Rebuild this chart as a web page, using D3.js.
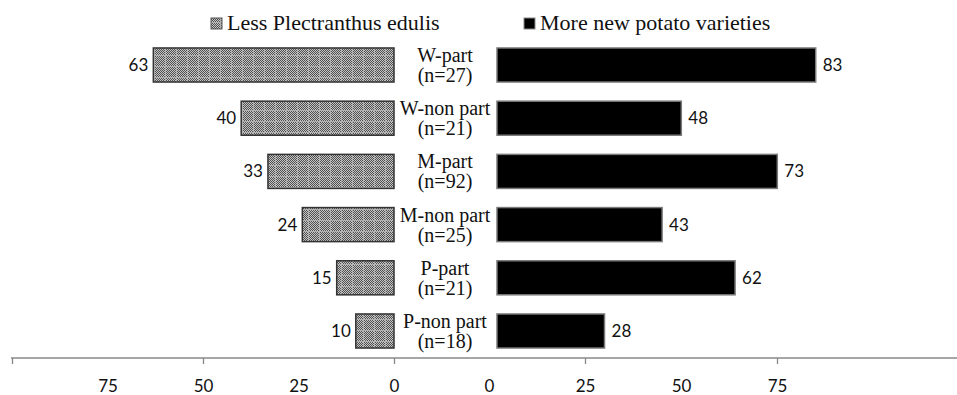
<!DOCTYPE html>
<html>
<head>
<meta charset="utf-8">
<script src="https://cdn.jsdelivr.net/npm/d3@7"></script>
<style>
  body { margin: 0; background: #fff; }
  svg { display: block; }
  .cat, .legend { font-family: "Liberation Serif", Tinos, "Times New Roman", Times, "DejaVu Serif", serif; fill: #111; }
  .cat { font-size: 20px; }
  .legend { font-size: 22px; }
  .val { font-family: Lato, "Open Sans", sans-serif; font-size: 17px; fill: #111; }
  .axis text { font-family: Lato, "Open Sans", sans-serif; font-size: 17px; fill: #111; }
  .axis line, .axis path { stroke: #888; }
</style>
</head>
<body>
<svg width="957" height="395"></svg>
<script>
// data
var categories = ["W-part", "W-non part", "M-part", "M-non part", "P-part", "P-non part"];
var sampleSizes = [27, 21, 92, 25, 21, 18];
var lessPlectranthus = [63, 40, 33, 24, 15, 10];
var morePotato = [83, 48, 73, 43, 62, 28];
var tickLabels = [0, 25, 50, 75];
var seriesNames = ["Less Plectranthus edulis", "More new potato varieties"];

var svg = d3.select('svg');

// patterns for the left (grey checker) bars
var defs = svg.append('defs');
var checker = defs.append('pattern').attr('id', 'checker')
    .attr('width', 2).attr('height', 2).attr('patternUnits', 'userSpaceOnUse');
checker.append('rect').attr('width', 2).attr('height', 2).attr('fill', '#c4c4c4');
checker.append('rect').attr('width', 1).attr('height', 1).attr('fill', '#505050');
checker.append('rect').attr('x', 1).attr('y', 1).attr('width', 1).attr('height', 1).attr('fill', '#505050');

var grid = defs.append('pattern').attr('id', 'grid')
    .attr('width', 11).attr('height', 11).attr('patternUnits', 'userSpaceOnUse');
grid.append('rect').attr('width', 11).attr('height', 11).attr('fill', 'url(#checker)');
grid.append('rect').attr('width', 1).attr('height', 11).attr('fill', '#b0b0b0');
grid.append('rect').attr('width', 11).attr('height', 1).attr('fill', '#b0b0b0');

// scales
var y = d3.scaleBand().domain(categories).range([38.4, 357.6])
    .paddingInner(0.36).paddingOuter(0.18);

var xLeft = d3.scaleLinear().domain([0, 100]).range([394, 12]);
var xRight = d3.scaleLinear().domain([0, 100]).range([497, 881]);
var xRightAxis = d3.scaleLinear().domain([0, 100]).range([489, 873]);

var axisY = 358;

// axis line across the whole chart
svg.append('line')
    .attr('x1', xLeft(100) - 1).attr('x2', 957)
    .attr('y1', axisY).attr('y2', axisY)
    .attr('stroke', '#888').attr('stroke-width', 1.3);

function drawAxis(scale, tickedValues) {
    var g = svg.append('g').attr('class', 'axis')
        .attr('transform', 'translate(0,' + axisY + ')')
        .call(d3.axisBottom(scale).tickValues([0, 25, 50, 75, 100]).tickSize(6).tickPadding(16));
    g.select('.domain').remove();
    g.selectAll('.tick line')
        .attr('y2', function(d) { return tickedValues.indexOf(d) >= 0 ? 6 : 0; })
        .attr('stroke-width', 1.3);
    g.selectAll('.tick text')
        .text(function(d) { return tickLabels.indexOf(d) >= 0 ? d : ''; });
}
drawAxis(xLeft, [0, 50, 100]);
drawAxis(xRightAxis, [25, 75]);

// left bars
var left = svg.append('g');
left.selectAll('rect').data(lessPlectranthus).enter().append('rect')
    .attr('x', function(d) { return xLeft(d); })
    .attr('y', function(d, i) { return y(categories[i]); })
    .attr('width', function(d) { return xLeft(0) - xLeft(d); })
    .attr('height', y.bandwidth())
    .attr('fill', 'url(#grid)')
    .attr('stroke', '#333').attr('stroke-width', 1.5);

left.selectAll('text').data(lessPlectranthus).enter().append('text')
    .attr('class', 'val')
    .attr('x', function(d) { return xLeft(d) - 5; })
    .attr('y', function(d, i) { return y(categories[i]) + y.bandwidth() / 2; })
    .attr('dy', '0.35em')
    .attr('text-anchor', 'end')
    .text(function(d) { return d; });

// right bars
var right = svg.append('g');
right.selectAll('rect').data(morePotato).enter().append('rect')
    .attr('x', xRight(0))
    .attr('y', function(d, i) { return y(categories[i]); })
    .attr('width', function(d) { return xRight(d) - xRight(0); })
    .attr('height', y.bandwidth())
    .attr('fill', '#000')
    .attr('stroke', '#7a7a7a').attr('stroke-width', 1.5);

right.selectAll('text').data(morePotato).enter().append('text')
    .attr('class', 'val')
    .attr('x', function(d) { return xRight(d) + 7; })
    .attr('y', function(d, i) { return y(categories[i]) + y.bandwidth() / 2; })
    .attr('dy', '0.35em')
    .text(function(d) { return d; });

// category labels in the middle, two lines each
var catG = svg.append('g');
categories.forEach(function(c, i) {
    catG.append('text')
        .attr('class', 'cat')
        .attr('text-anchor', 'middle')
        .attr('x', 445)
        .attr('y', y(c) + 14)
        .text(c);
    catG.append('text')
        .attr('class', 'cat')
        .attr('text-anchor', 'middle')
        .attr('x', 445)
        .attr('y', y(c) + 34)
        .text('(n=' + sampleSizes[i] + ')');
});

// legend
var legendX = [211, 524];
var legendFill = ['url(#grid)', '#000'];
var legendStroke = ['#555', '#888'];
var legend = svg.append('g');
seriesNames.forEach(function(name, i) {
    legend.append('rect')
        .attr('x', legendX[i]).attr('y', 18)
        .attr('width', 11).attr('height', 11)
        .attr('fill', legendFill[i])
        .attr('stroke', legendStroke[i]).attr('stroke-width', 1);
    legend.append('text')
        .attr('class', 'legend')
        .attr('x', legendX[i] + 16).attr('y', 30)
        .text(name);
});
</script>
</body>
</html>
